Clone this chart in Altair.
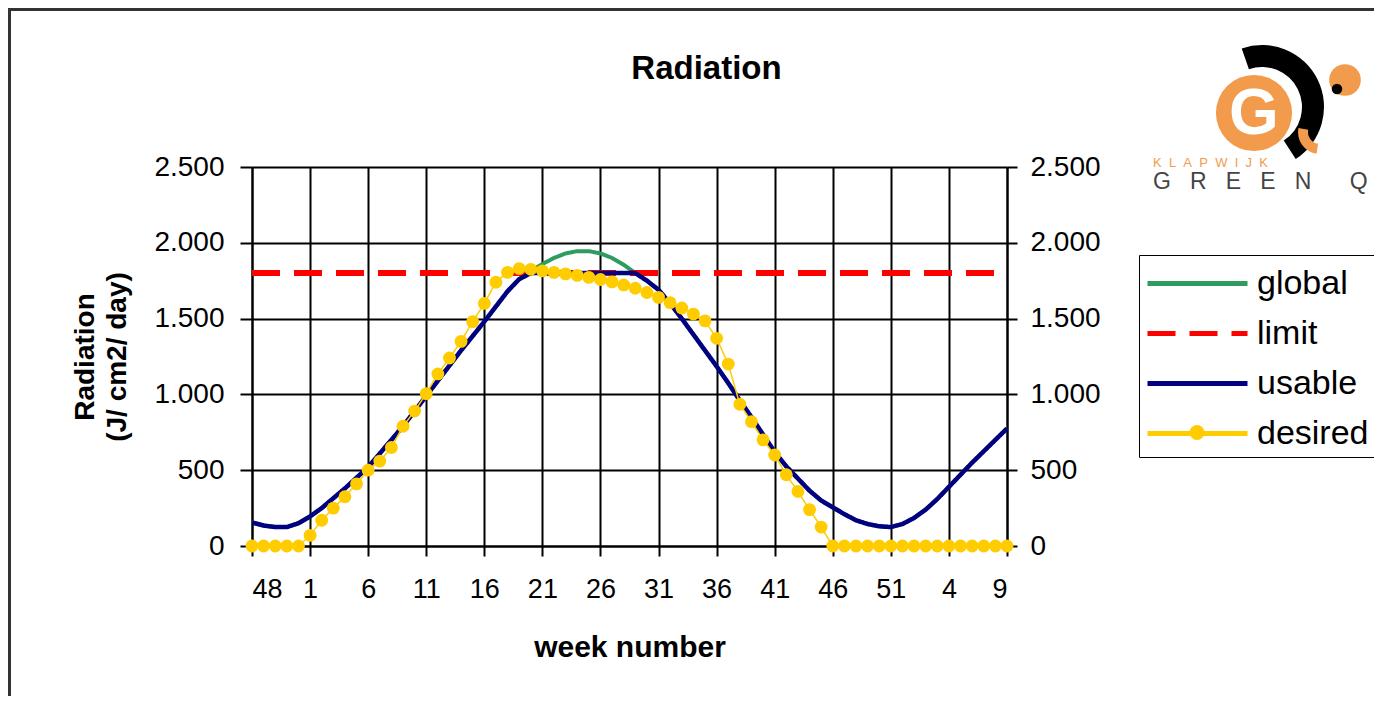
import altair as alt
import pandas as pd

# ---------------- data ----------------
week_labels = ["48", "1", "6", "11", "16", "21", "26", "31", "36", "41", "46", "51", "4", "9"]
week_index = list(range(66))  # week 48 ... week 9 (two years later), one step per week

global_vals = [155, 135, 125, 125, 150, 195, 250, 315, 380, 450,
               520, 610, 700, 790, 890, 990, 1090, 1190, 1290, 1385,
               1480, 1580, 1680, 1760, 1815, 1860, 1900, 1930, 1945, 1945,
               1930, 1900, 1855, 1800, 1750, 1690, 1600, 1500, 1395, 1290,
               1185, 1075, 960, 850, 735, 620, 525, 445, 365, 300,
               255, 210, 170, 145, 130, 125, 145, 185, 240, 310,
               390, 470, 550, 625, 700, 775]

usable_vals = [155, 135, 125, 125, 150, 195, 250, 315, 380, 450,
               520, 610, 700, 790, 890, 990, 1090, 1190, 1290, 1385,
               1480, 1580, 1680, 1760, 1800, 1800, 1800, 1800, 1800, 1800,
               1800, 1800, 1800, 1800, 1750, 1690, 1600, 1500, 1395, 1290,
               1185, 1075, 960, 850, 735, 620, 525, 445, 365, 300,
               255, 210, 170, 145, 130, 125, 145, 185, 240, 310,
               390, 470, 550, 625, 700, 775]

desired_vals = [0, 0, 0, 0, 0, 70, 170, 250, 325, 410,
                500, 560, 650, 790, 890, 1005, 1135, 1240, 1350, 1480,
                1600, 1740, 1805, 1830, 1825, 1815, 1805, 1795, 1785, 1772,
                1758, 1742, 1722, 1700, 1672, 1640, 1605, 1570, 1530, 1485,
                1370, 1200, 935, 820, 700, 600, 470, 360, 240, 125,
                0, 0, 0, 0, 0, 0, 0, 0, 0, 0,
                0, 0, 0, 0, 0, 0]

limit_value = 1800

series_names = ["global", "limit", "usable", "desired"]
series_colors = ["#2E9B5F", "#FF0000", "#000080", "#FFCC00"]
series_dash = [[1, 0], [28, 14], [1, 0], [1, 0]]

y_ticks = [0, 500, 1000, 1500, 2000, 2500]

records = []
for i in week_index:
    records.append({"idx": i, "value": global_vals[i], "series": "global"})
    records.append({"idx": i, "value": limit_value, "series": "limit"})
    records.append({"idx": i, "value": usable_vals[i], "series": "usable"})
    records.append({"idx": i, "value": desired_vals[i], "series": "desired"})
df = pd.DataFrame(records)

# ---------------- styling helpers ----------------
FONT = "Liberation Sans"
NB = "\u00a0"
label_expr_x = "[" + ",".join("'%s'" % w for w in week_labels) + "][round(datum.value / 5)]"
label_expr_y = "replace(format(datum.value, ','), ',', '.')"

x_enc = alt.X(
    "idx:Q",
    scale=alt.Scale(domain=[0, 65], nice=False, zero=False),
    axis=alt.Axis(
        values=list(range(0, 66, 5)), labelExpr=label_expr_x, title="week number",
        grid=True, gridColor="black", gridWidth=2,
        domainColor="black", domainWidth=2,
        tickColor="black", tickWidth=2, tickSize=10,
        labelFont=FONT, labelFontSize=27, labelColor="black", labelPadding=20,
        labelAngle=0, labelOverlap=False,
        titleFont=FONT, titleFontSize=30, titleFontWeight="bold", titleColor="black",
        titlePadding=30,
    ),
)

y_scale = alt.Scale(domain=[0, 2500], nice=False, zero=True)

y_left = alt.Y(
    "value:Q", scale=y_scale,
    axis=alt.Axis(
        orient="left", values=y_ticks, labelExpr=label_expr_y,
        title=["Radiation", "(J/ cm2/ day)"],
        grid=True, gridColor="black", gridWidth=2,
        domainColor="black", domainWidth=2,
        tickColor="black", tickWidth=2, tickSize=12,
        labelFont=FONT, labelFontSize=28, labelColor="black", labelPadding=16,
        titleFont=FONT, titleFontSize=28, titleFontWeight="bold", titleColor="black",
        titlePadding=22, titleLineHeight=32,
    ),
)
y_right = alt.Y(
    "value:Q", scale=y_scale,
    axis=alt.Axis(
        orient="right", values=y_ticks, labelExpr=label_expr_y, title=None,
        grid=False, domainColor="black", domainWidth=2,
        tickColor="black", tickWidth=2, tickSize=10,
        labelFont=FONT, labelFontSize=28, labelColor="black", labelPadding=13,
    ),
)
y_none = alt.Y("value:Q", scale=y_scale, axis=None)


def main_legend():
    return alt.Legend(
        title=None, orient="none", legendX=887, legendY=88,
        symbolType="M-2.5,0L2.5,0", symbolSize=1600, symbolStrokeWidth=5,
        symbolOffset=30, labelOffset=37,
        labelFont=FONT, labelFontSize=34, labelColor="black",
        padding=6, rowPadding=10, strokeColor="black", fillColor="white",
    )


color_main = alt.Color("series:N", scale=alt.Scale(domain=series_names, range=series_colors),
                       legend=main_legend())
dash_main = alt.StrokeDash("series:N", scale=alt.Scale(domain=series_names, range=series_dash),
                           legend=main_legend())


def line_layer(name, width, y):
    return (
        alt.Chart(df)
        .transform_filter(alt.datum.series == name)
        .mark_line(strokeWidth=width, strokeCap="butt")
        .encode(x=x_enc, y=y, color=color_main, strokeDash=dash_main)
    )


lines = alt.layer(
    line_layer("global", 4, y_left),
    line_layer("limit", 6, y_none),
    line_layer("usable", 4.5, y_right),
    line_layer("desired", 1.5, y_none),
).resolve_axis(y="independent")

dots = (
    alt.Chart(df)
    .transform_filter(alt.datum.series == "desired")
    .mark_circle(size=165, opacity=1)
    .encode(
        x=x_enc, y=y_none,
        color=alt.Color(
            "series:N",
            scale=alt.Scale(domain=["desired"], range=["#FFCC00"]),
            legend=alt.Legend(
                title=None, orient="none", legendX=937.5, legendY=258,
                symbolType="circle", symbolSize=220, symbolStrokeWidth=0,
                labelOpacity=0, labelFontSize=1, padding=0,
                strokeColor="transparent", fillColor="transparent", zindex=2,
            ),
        ),
    )
)

# ---------------- decoration: outer frame and logo ----------------
one = pd.DataFrame({"k": [0]})
frame_top = alt.Chart(one).mark_rule(color="#333333", strokeWidth=3).encode(
    x=alt.value(-244), x2=alt.value(1122), y=alt.value(-157.5))
frame_left = alt.Chart(one).mark_rule(color="#333333", strokeWidth=3).encode(
    x=alt.value(-242.5), y=alt.value(-159), y2=alt.value(529))

logo_ring = alt.Chart(one).mark_arc(radius=62, radius2=40, theta=5.95, theta2=8.85,
                                    color="black").encode(
    x=alt.value(1010), y=alt.value(-60))
logo_tail = alt.Chart(one).mark_arc(radius=22, radius2=12, theta=3.3, theta2=4.9,
                                    color="#F29B4C").encode(
    x=alt.value(1068), y=alt.value(-35))
logo_small = alt.Chart(one).mark_circle(size=1000, color="#F29B4C", opacity=1).encode(
    x=alt.value(1093), y=alt.value(-87))
logo_dot = alt.Chart(one).mark_circle(size=110, color="black", opacity=1).encode(
    x=alt.value(1085), y=alt.value(-78))
logo_main = alt.Chart(one).mark_circle(size=5800, color="#F29B4C", opacity=1).encode(
    x=alt.value(1002), y=alt.value(-54))
logo_g = alt.Chart(one).mark_text(text="G", font=FONT, fontSize=64, fontWeight="bold",
                                  color="white", align="center", baseline="middle").encode(
    x=alt.value(1002), y=alt.value(-52))
logo_k = alt.Chart(one).mark_text(text=(NB * 2).join("KLAPWIJK"), font=FONT, fontSize=13,
                                  color="#F29B4C", align="left", baseline="middle").encode(
    x=alt.value(901), y=alt.value(-4))
logo_green = alt.Chart(one).mark_text(text=(NB * 3).join("GREEN") + NB * 6 + "Q", font=FONT,
                                      fontSize=23, color="#444444", align="left",
                                      baseline="middle").encode(
    x=alt.value(901), y=alt.value(15))

chart = (
    alt.layer(lines, dots, frame_top, frame_left, logo_ring, logo_tail, logo_small, logo_dot,
              logo_main, logo_g, logo_k, logo_green)
    .resolve_scale(color="independent", strokeDash="independent")
    .resolve_axis(y="independent")
    .properties(
        width=755, height=379,
        autosize=alt.AutoSizeParams(type="none"),
        padding={"left": 244, "top": 159, "right": 367, "bottom": 150},
        title=alt.TitleParams(text="Radiation", font=FONT, fontSize=33, fontWeight="bold",
                              color="black", anchor="middle", frame="group", dx=77, dy=79,
                              offset=0),
    )
    .configure_view(stroke=None)
    .configure_legend(strokeWidth=2)
    .configure(background="white")
)

chart.save("out.html", embed_options={"renderer": "svg", "actions": False})
